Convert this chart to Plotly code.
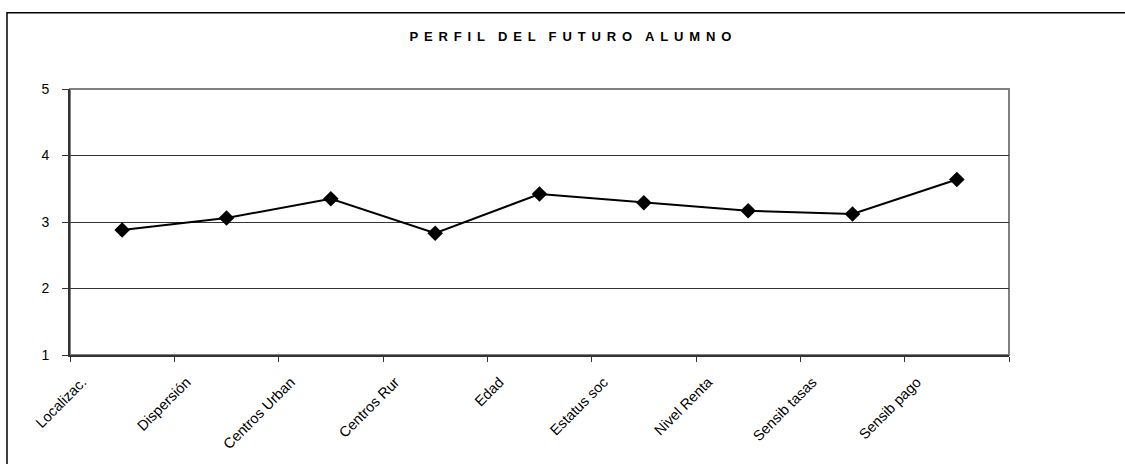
import plotly.graph_objects as go

categorias = ["Localizac.", "Dispersión", "Centros Urban", "Centros Rur", "Edad",
              "Estatus soc", "Nivel Renta", "Sensib tasas", "Sensib pago"]
valores = [2.88, 3.06, 3.35, 2.83, 3.42, 3.29, 3.17, 3.12, 3.64]
y_ticks = [1, 2, 3, 4, 5]

sep_letra = "\u2005\u2009"
sep_palabra = "\u2003"
titulo = sep_palabra.join(sep_letra.join(p) for p in ["PERFIL", "DEL", "FUTURO", "ALUMNO"])

fig = go.Figure()
fig.add_trace(
    go.Scatter(
        x=categorias,
        y=valores,
        mode="lines+markers",
        line=dict(color="black", width=2),
        marker=dict(symbol="diamond", size=12, color="black"),
        showlegend=False,
    )
)

# outer chart border (cropped on the right and bottom)
fig.add_shape(type="rect", xref="paper", yref="paper",
              x0=-0.0671, x1=1.3, y0=-0.6, y1=1.287,
              line=dict(color="black", width=1.5), layer="below")
# plot area border
fig.add_shape(type="rect", xref="paper", yref="paper",
              x0=0, x1=1, y0=0, y1=1,
              line=dict(color="#808080", width=2), layer="below")

fig.update_layout(
    width=1125,
    height=464,
    margin=dict(l=70, r=116, t=89, b=107),
    paper_bgcolor="white",
    plot_bgcolor="white",
    font=dict(family="Liberation Sans, Arial, sans-serif", size=14, color="black"),
    title=dict(
        text=f"<b>{titulo}</b>",
        x=0.507, xanchor="center",
        y=0.922, yanchor="middle",
        font=dict(size=13, color="black"),
    ),
    xaxis=dict(
        type="category",
        range=[-0.5, 8.5],
        tickson="boundaries",
        ticks="outside",
        ticklen=5,
        tickcolor="#333333",
        tickwidth=1,
        showline=True,
        linecolor="#333333",
        linewidth=2,
        showgrid=False,
        tickangle=-45,
        ticklabelshift=-40,
        ticklabelstandoff=11,
        tickfont=dict(size=14.5),
    ),
    yaxis=dict(
        range=[1, 5],
        tickvals=y_ticks,
        ticks="outside",
        ticklen=6,
        tickcolor="#333333",
        showline=True,
        linecolor="#333333",
        linewidth=2,
        showgrid=True,
        gridcolor="#333333",
        gridwidth=1,
        zeroline=False,
        tickfont=dict(size=14),
        ticklabelstandoff=10,
    ),
)

fig.write_html("out.html", config={"displayModeBar": False},
               post_script="document.body.style.margin='0';")
